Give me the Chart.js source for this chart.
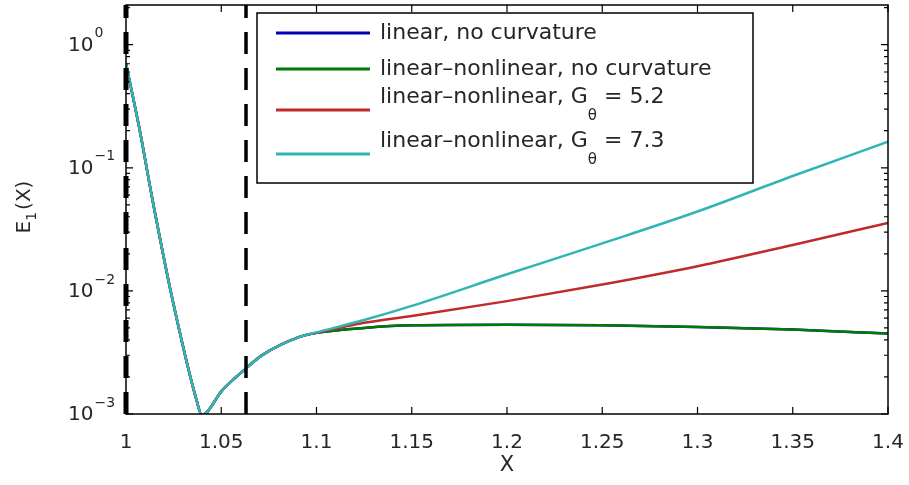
<!DOCTYPE html>
<html>
<head>
<meta charset="utf-8">
<script src="https://cdn.jsdelivr.net/npm/chart.js@4.4.1/dist/chart.umd.min.js"></script>
<style>
  html, body { margin: 0; padding: 0; background: #fff; }
</style>
</head>
<body>
<canvas id="chart" width="909" height="485"></canvas>
<script>
// values
const xValues = [1.000, 1.007, 1.0139, 1.0244, 1.037, 1.0398, 1.0507, 1.0612, 1.0717, 1.0911,
                 1.1, 1.125, 1.15, 1.2, 1.25, 1.3, 1.35, 1.4];
const linearNoCurvature = [0.70, 0.21, 0.055, 0.0085, 0.0013, 0.00098, 0.00157, 0.00222, 0.00302, 0.00423,
                           0.00456, 0.0050, 0.00525, 0.0053, 0.00525, 0.0051, 0.00486, 0.0045];
const nonlinNoCurvature = [0.70, 0.21, 0.055, 0.0085, 0.0013, 0.00098, 0.00157, 0.00222, 0.00302, 0.00423,
                           0.00456, 0.0050, 0.00525, 0.0053, 0.00525, 0.0051, 0.00486, 0.0045];
const nonlinG52 = [0.70, 0.21, 0.055, 0.0085, 0.0013, 0.00098, 0.00157, 0.00222, 0.00302, 0.00423,
                   0.00456, 0.0055, 0.00626, 0.00826, 0.01125, 0.01585, 0.0236, 0.0357];
const nonlinG73 = [0.70, 0.21, 0.055, 0.0085, 0.0013, 0.00098, 0.00157, 0.00222, 0.00302, 0.00423,
                   0.0046, 0.0058, 0.00755, 0.01364, 0.0243, 0.0441, 0.0857, 0.1626];
const seriesLabels = ['linear, no curvature', 'linear\u2013nonlinear, no curvature',
                      'linear\u2013nonlinear, G_\u03b8 = 5.2', 'linear\u2013nonlinear, G_\u03b8 = 7.3'];
const seriesColors = ['#0000b4', '#007a00', '#c02a2a', '#30b5b5'];
const yTicks = [1e-3, 1e-2, 1e-1, 1];
const yTickExp = ['\u22123', '\u22122', '\u22121', '0'];
const markerX = [1, 1.063];
const xMin = 1, xMax = 1.4, xStep = 0.05;
const yMin = 1e-3, yMax = 2.1;

const FONT = '"DejaVu Sans", "Liberation Sans", sans-serif';
const TXT = '#262626';

const toPoints = (ys) => xValues.map((x, i) => ({ x: x, y: ys[i] }));
const seriesData = [linearNoCurvature, nonlinNoCurvature, nonlinG52, nonlinG73];

const datasets = seriesData.map((ys, i) => ({
  label: seriesLabels[i],
  data: toPoints(ys),
  borderColor: seriesColors[i],
  borderWidth: 2.5,
  pointRadius: 0,
  cubicInterpolationMode: 'monotone',
  order: 4 - i
}));

markerX.forEach((mx, i) => {
  datasets.push({
    label: 'marker' + i,
    data: [{ x: mx, y: yMin }, { x: mx, y: yMax }],
    borderColor: '#000',
    borderWidth: i === 0 ? 5 : 3.5,
    borderDash: [22, 14],
    pointRadius: 0,
    clip: false,
    order: 0
  });
});

// matlab-like box, inward ticks, superscript labels and legend
const matlabAxes = {
  id: 'matlabAxes',
  afterDatasetsDraw(chart) {
    const ctx = chart.ctx;
    const a = chart.chartArea;
    const xs = chart.scales.x, ys = chart.scales.y;
    ctx.save();

    // frame
    ctx.strokeStyle = '#000';
    ctx.lineWidth = 1.5;
    ctx.strokeRect(a.left, a.top, a.right - a.left, a.bottom - a.top);

    // x ticks, bottom and top
    ctx.lineWidth = 1.2;
    ctx.beginPath();
    for (let v = xMin; v <= xMax + 1e-9; v += xStep) {
      const px = xs.getPixelForValue(v);
      ctx.moveTo(px, a.bottom); ctx.lineTo(px, a.bottom - 7);
      ctx.moveTo(px, a.top); ctx.lineTo(px, a.top + 7);
    }
    // y ticks, left and right
    yTicks.forEach(d => {
      for (let m = 1; m <= 9; m++) {
        const v = d * m;
        if (v > yMax) break;
        const py = ys.getPixelForValue(v);
        const len = m === 1 ? 7 : 4;
        ctx.moveTo(a.left, py); ctx.lineTo(a.left + len, py);
        ctx.moveTo(a.right, py); ctx.lineTo(a.right - len, py);
      }
    });
    ctx.stroke();

    // y tick labels 10^n
    ctx.fillStyle = TXT;
    ctx.textBaseline = 'middle';
    ctx.textAlign = 'left';
    yTicks.forEach((v, i) => {
      const py = ys.getPixelForValue(v);
      ctx.font = '20px ' + FONT;
      ctx.fillText('10', 68, py + 1);
      const w = ctx.measureText('10').width;
      ctx.font = '14px ' + FONT;
      ctx.fillText(yTickExp[i], 68 + w + 1, py - 11);
    });

    // axis titles
    ctx.font = '21px ' + FONT;
    ctx.textAlign = 'center';
    ctx.fillText('X', (a.left + a.right) / 2, 466);

    ctx.save();
    ctx.translate(25, 207);
    ctx.rotate(-Math.PI / 2);
    ctx.textAlign = 'left';
    ctx.font = '20px ' + FONT;
    const wE = ctx.measureText('E').width;
    ctx.font = '14px ' + FONT;
    const w1 = ctx.measureText('1').width;
    ctx.font = '20px ' + FONT;
    const wX = ctx.measureText('(X)').width;
    let x0 = -(wE + w1 + 2 + wX) / 2;
    ctx.fillText('E', x0, 0);
    ctx.font = '14px ' + FONT;
    ctx.fillText('1', x0 + wE, 7);
    ctx.font = '20px ' + FONT;
    ctx.fillText('(X)', x0 + wE + w1 + 2, 0);
    ctx.restore();

    // legend
    const bx = 257, by = 13, bw = 496, bh = 170;
    ctx.fillStyle = '#fff';
    ctx.fillRect(bx, by, bw, bh);
    ctx.strokeStyle = '#000';
    ctx.lineWidth = 1.5;
    ctx.strokeRect(bx, by, bw, bh);
    const rows = [33, 69, 110, 154];
    chart.data.datasets.slice(0, seriesLabels.length).forEach((ds, i) => {
      const ly = rows[i];
      ctx.strokeStyle = ds.borderColor;
      ctx.lineWidth = 3;
      ctx.beginPath();
      ctx.moveTo(276, ly); ctx.lineTo(370, ly);
      ctx.stroke();
      ctx.fillStyle = TXT;
      ctx.textAlign = 'left';
      ctx.textBaseline = 'middle';
      ctx.font = '22px ' + FONT;
      const parts = ds.label.split('_');
      if (parts.length === 1) {
        ctx.fillText(ds.label, 380, ly);
      } else {
        const ty = ly - 13;
        ctx.fillText(parts[0], 380, ty);
        let px = 380 + ctx.measureText(parts[0]).width;
        const sub = parts[1].charAt(0);
        const rest = parts[1].slice(1);
        ctx.font = '15px ' + FONT;
        ctx.fillText(sub, px, ty + 19);
        px += ctx.measureText(sub).width;
        ctx.font = '22px ' + FONT;
        ctx.fillText(rest, px, ty);
      }
    });

    ctx.restore();
  }
};

new Chart(document.getElementById('chart'), {
  type: 'line',
  data: { datasets: datasets },
  options: {
    responsive: false,
    animation: false,
    devicePixelRatio: 1,
    layout: { padding: { left: 0, right: 21, top: 5, bottom: 0 } },
    plugins: {
      legend: { display: false },
      tooltip: { enabled: false }
    },
    scales: {
      x: {
        type: 'linear',
        min: xMin,
        max: xMax,
        grid: { display: false },
        border: { display: false },
        ticks: {
          stepSize: xStep,
          padding: 9,
          maxRotation: 0,
          color: TXT,
          font: { family: FONT, size: 20 },
          callback: (v) => String(+v.toFixed(2))
        },
        afterFit: (scale) => {
          scale.height = 71;
          scale.paddingLeft = 0;
          scale.paddingRight = 0;
        }
      },
      y: {
        type: 'logarithmic',
        min: yMin,
        max: yMax,
        grid: { display: false },
        border: { display: false },
        ticks: { display: false },
        afterBuildTicks: (scale) => { scale.ticks = yTicks.map(v => ({ value: v })); },
        afterFit: (scale) => { scale.width = 126; }
      }
    }
  },
  plugins: [matlabAxes]
});
</script>
</body>
</html>
